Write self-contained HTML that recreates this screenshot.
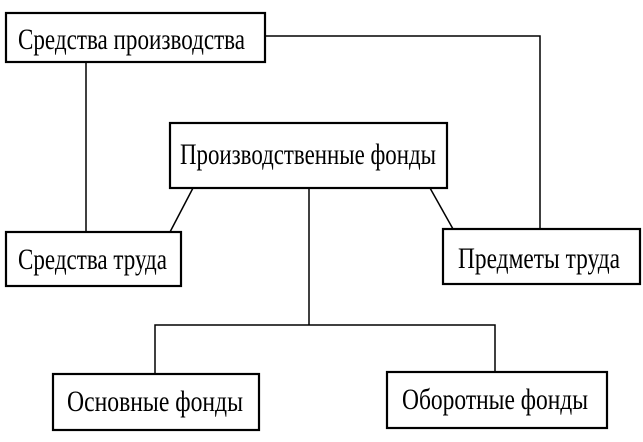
<!DOCTYPE html>
<html><head><meta charset="utf-8"><style>html,body{margin:0;padding:0;background:#fff}svg{display:block}</style></head>
<body>
<svg width="643" height="442" viewBox="0 0 643 442" xmlns="http://www.w3.org/2000/svg">
<g fill="none" stroke="#000">
<g stroke-width="2.2">
<rect x="6" y="13" width="259" height="49"/>
<rect x="170" y="123" width="277" height="65"/>
<rect x="6" y="232" width="175" height="54"/>
<rect x="443" y="229" width="197" height="55"/>
<rect x="53" y="374" width="206" height="56"/>
<rect x="387" y="372" width="220" height="56"/>
</g>
<g stroke-width="1.5">
<polyline points="265,36 540,36 540,229"/>
<line x1="86" y1="62" x2="86" y2="232"/>
<line x1="193" y1="188" x2="170" y2="232"/>
<line x1="430" y1="188" x2="453" y2="229"/>
<line x1="309" y1="188" x2="309" y2="325"/>
<polyline points="155,374 155,325 495,325 495,372"/>
</g>
</g>
<g font-family="Liberation Serif, serif" font-size="30" fill="#000">
<text x="18" y="49" textLength="227" lengthAdjust="spacingAndGlyphs">Средства производства</text>
<text x="180" y="164" textLength="256" lengthAdjust="spacingAndGlyphs">Производственные фонды</text>
<text x="18" y="269" textLength="149" lengthAdjust="spacingAndGlyphs">Средства труда</text>
<text x="458" y="268" textLength="162" lengthAdjust="spacingAndGlyphs">Предметы труда</text>
<text x="67" y="411" textLength="176" lengthAdjust="spacingAndGlyphs">Основные фонды</text>
<text x="402" y="409" textLength="186" lengthAdjust="spacingAndGlyphs">Оборотные фонды</text>
</g>
</svg>
</body></html>
